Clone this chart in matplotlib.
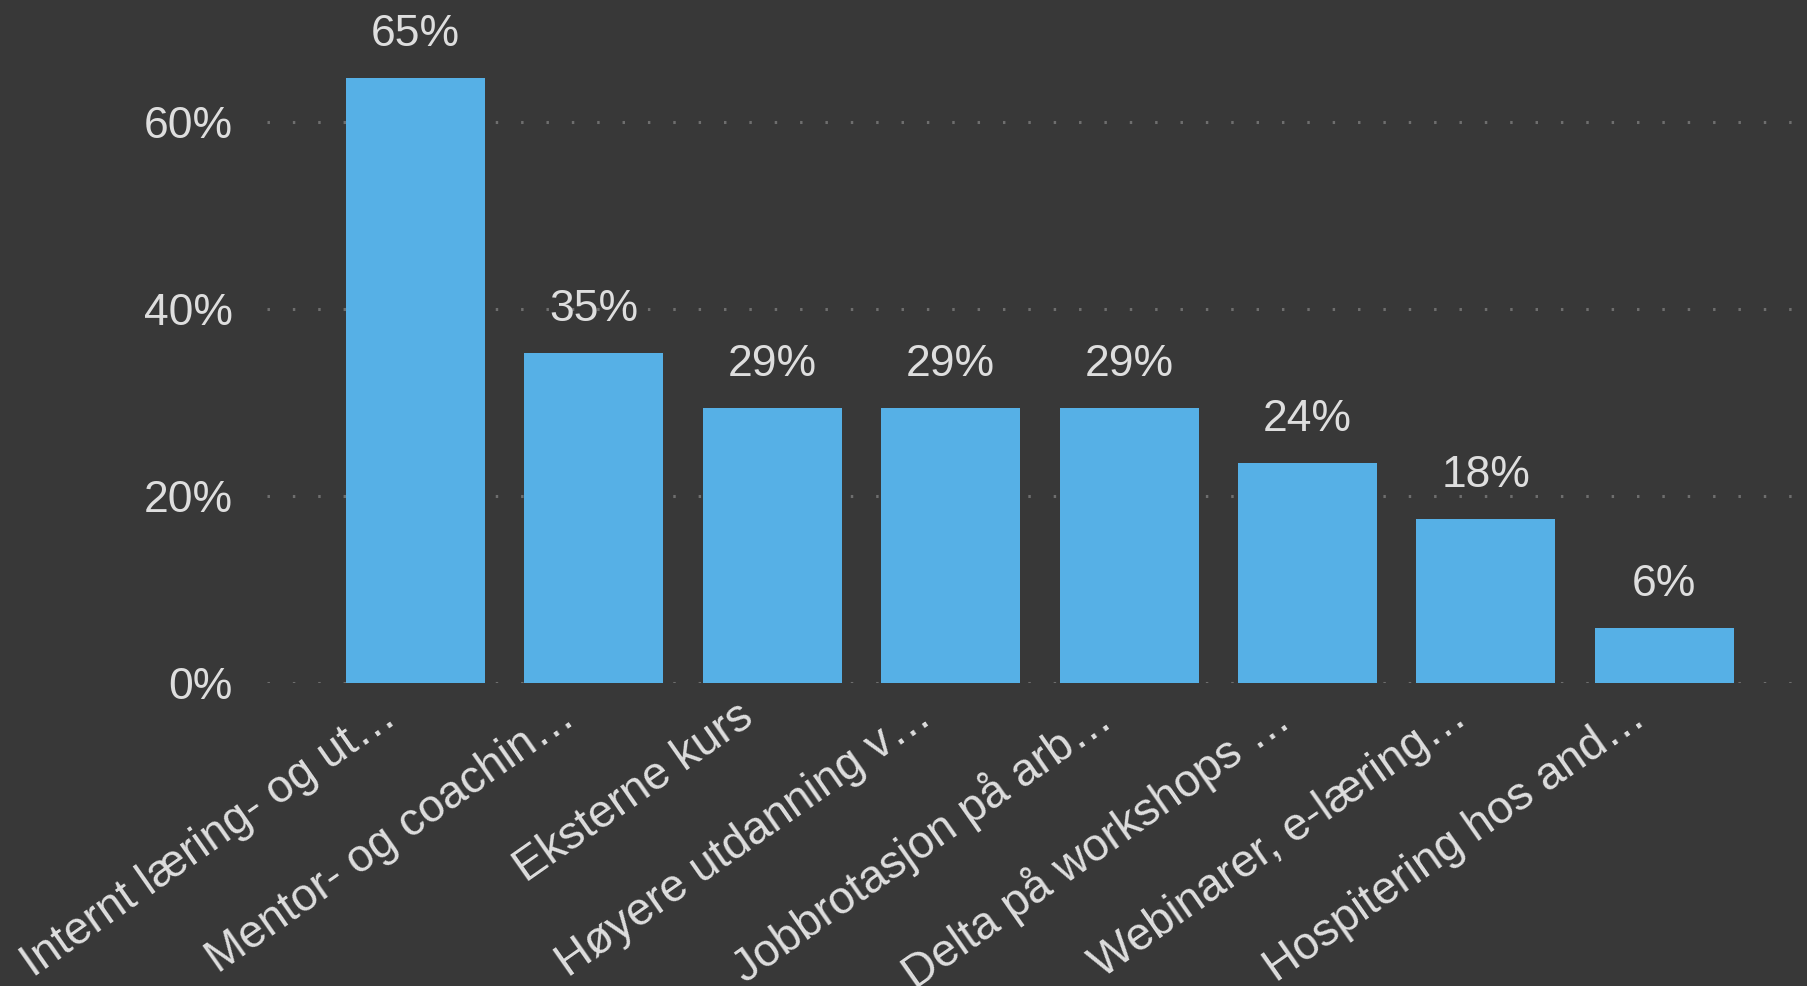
import matplotlib
matplotlib.use('Agg')
import matplotlib.pyplot as plt
import matplotlib.transforms as mtransforms
from matplotlib.ticker import FuncFormatter

categories = ['Internt læring- og ut…', 'Mentor- og coachin…', 'Eksterne kurs',
              'Høyere utdanning v…', 'Jobbrotasjon på arb…', 'Delta på workshops …',
              'Webinarer, e-læring…', 'Hospitering hos and…']
values = [64.7, 35.3, 29.4, 29.4, 29.4, 23.5, 17.6, 5.9]
yticks = [0, 20, 40, 60]

bg = '#383838'
barcol = '#56b0e6'
txtcol = '#dedede'

plt.rcParams['font.family'] = ['Liberation Sans', 'DejaVu Sans']

fig = plt.figure(figsize=(18.07, 9.86), dpi=100, facecolor=bg)
ax = fig.add_axes([0.148, 0.307, 0.852, 0.693])
ax.set_facecolor(bg)

xx = list(range(len(categories)))
ax.bar(xx, values, width=0.78, color=barcol, zorder=2)

for i in range(len(values)):
    ax.annotate(str(round(values[i])) + '%', (xx[i], values[i]),
                xytext=(0, 23), textcoords='offset points',
                ha='center', va='baseline', fontsize=32, color=txtcol)

ax.set_xlim(-0.83, 7.8)
ax.set_ylim(0, 73)
ax.set_yticks(yticks)
ax.yaxis.set_major_formatter(FuncFormatter(lambda v, p: '%d%%' % v))
ax.grid(axis='y', color='#6e6e6e', linestyle=(0, (0.8, 7.5)), linewidth=2.2, zorder=0)
ax.set_axisbelow(True)

for s in ax.spines.values():
    s.set_visible(False)

ax.tick_params(axis='y', length=0, pad=25, labelsize=32, labelcolor=txtcol)
ax.tick_params(axis='x', length=0, pad=8, labelsize=33, labelcolor=txtcol)
ax.set_xticks(xx)
ax.set_xticklabels(categories, rotation=35, ha='right', rotation_mode='anchor')

# nudge rotated labels to the left, like the original
shift = mtransforms.ScaledTranslation(-0.36, 0, fig.dpi_scale_trans)
for lab in ax.get_xticklabels():
    lab.set_transform(lab.get_transform() + shift)

fig.savefig('out.png', dpi=100, facecolor=bg)
